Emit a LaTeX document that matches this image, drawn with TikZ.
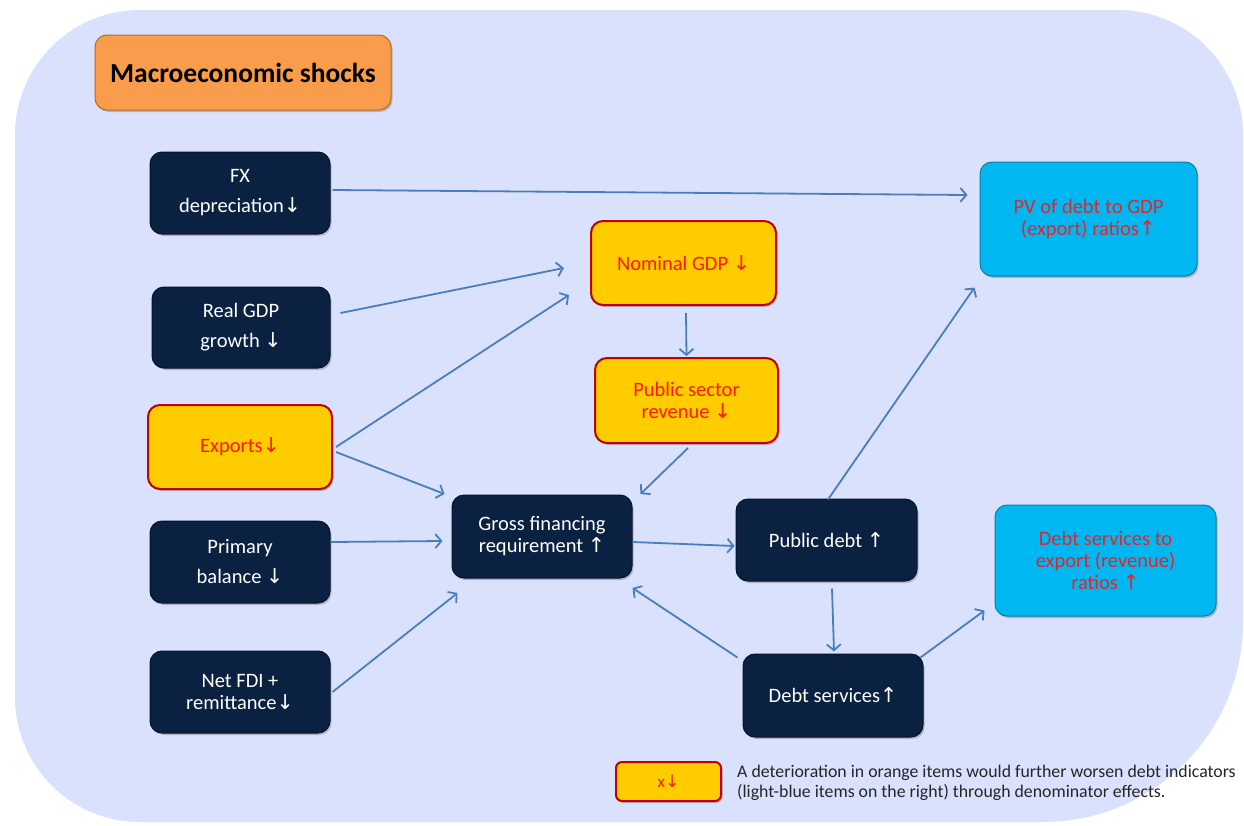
\documentclass[tikz,border=0pt]{standalone}
\usepackage{fontspec}
\setmainfont{Carlito}
\newfontfamily\symfont{DejaVu Sans}
\usetikzlibrary{arrows.meta,shadows}
\newcommand\dn{{\symfont\char"2193}}
\newcommand\up{{\symfont\char"2191}}
\definecolor{bgc}{HTML}{DAE1FD}
\definecolor{navy}{HTML}{0B2142}
\definecolor{navyb}{HTML}{061429}
\definecolor{orng}{HTML}{F99C4B}
\definecolor{orngb}{HTML}{B86A2A}
\definecolor{yel}{HTML}{FFCC00}
\definecolor{yelb}{HTML}{C00000}
\definecolor{cyn}{HTML}{00B7F1}
\definecolor{cynb}{HTML}{0A7FA8}
\definecolor{arr}{HTML}{4A7EBB}
\definecolor{redt}{HTML}{FF1A00}
\definecolor{redc}{HTML}{E0262E}
\tikzset{
  box/.style={rounded corners=12pt, align=center, inner sep=2pt,
    font=\fontsize{20.5}{22}\selectfont,
    drop shadow={shadow xshift=1.5pt, shadow yshift=-2pt, opacity=0.45}},
  darkbox/.style={box, fill=navy, draw=navyb, line width=1pt, text=white},
  yelbox/.style={box, fill=yel, draw=yelb, line width=2pt, text=redt},
  cynbox/.style={box, fill=cyn, draw=cynb, line width=1pt, text=redc},
  conn/.style={draw=arr, line width=1.8pt, -{Straight Barb[length=6pt,width=14pt,line width=1.8pt]}},
}
\begin{document}
\begin{tikzpicture}[x=1pt,y=-1pt]
\useasboundingbox (0,0) rectangle (1244,825);
\fill[bgc] (15,135) -- (15,697) .. controls (15,766) and (71,822) .. (140,822)
  -- (1043,822) .. controls (1153.5,822) and (1243,732.5) .. (1243,622)
  -- (1243,135) .. controls (1243,66) and (1187,10) .. (1118,10)
  -- (140,10) .. controls (71,10) and (15,66) .. (15,135) -- cycle;

\node[box, fill=orng, draw=orngb, line width=1pt, minimum width=296pt, minimum height=75pt,
  font=\fontsize{27.5}{30}\selectfont\bfseries] (macro) at (243,72.5) {Macroeconomic shocks};

\node[darkbox, minimum width=180pt, minimum height=82pt] (fx) at (240,193) {FX\\[8pt]depreciation\dn};
\node[darkbox, minimum width=178pt, minimum height=81pt] (rgdp) at (241,327.5) {Real GDP\\[8pt]growth \dn};
\node[yelbox, minimum width=184pt, minimum height=84pt] (exp) at (240,447) {Exports\dn};
\node[darkbox, minimum width=180pt, minimum height=82pt] (prim) at (240,562) {Primary\\[8pt]balance \dn};
\node[darkbox, minimum width=180pt, minimum height=82pt] (fdi) at (240,692) {Net FDI +\\remittance\dn};

\node[yelbox, minimum width=185pt, minimum height=84pt] (ngdp) at (683.5,263) {Nominal GDP \dn};
\node[yelbox, minimum width=183pt, minimum height=85pt] (psr) at (686.5,400.5) {Public sector\\revenue \dn};
\node[darkbox, minimum width=180pt, minimum height=83pt] (gfr) at (542,536.5) {Gross financing\\requirement \up};
\node[darkbox, minimum width=181pt, minimum height=82pt] (pd) at (826.5,540) {Public debt \up};
\node[darkbox, minimum width=180pt, minimum height=83pt] (ds) at (833,695.5) {Debt services\up};

\node[cynbox, minimum width=217pt, minimum height=114pt] (pv) at (1088.5,219) {PV of debt to GDP\\(export) ratios\up};
\node[cynbox, minimum width=221pt, minimum height=111pt] (dsr) at (1105.5,560.5) {Debt services to\\export (revenue)\\ratios \up};

\node[yelbox, minimum width=105pt, minimum height=39pt, rounded corners=6pt,
  font=\fontsize{17}{18}\selectfont] (leg) at (668.5,781.5) {x\dn};
\node[anchor=west, align=left, inner sep=0pt, text=black!85,
  font=\fontsize{17.8}{20.5}\selectfont] (legtxt) at (737,783)
  {A deterioration in orange items would further worsen debt indicators\\(light-blue items on the right) through denominator effects.};

\draw[conn] ([xshift=2pt,yshift=3pt]fx.east) -- ([xshift=-12pt,yshift=24pt]pv.west);
\draw[conn] ([xshift=10pt,yshift=14.5pt]rgdp.east) -- ([xshift=-26pt,yshift=-5pt]ngdp.west);
\draw[conn] ([xshift=3pt]exp.east) -- ([xshift=-21pt,yshift=-32pt]ngdp.west);
\draw[conn] ([xshift=3pt,yshift=-5pt]exp.east) -- ([xshift=-7pt,yshift=42.5pt]gfr.west);
\draw[conn] ([xshift=2.5pt,yshift=-7pt]ngdp.south) -- ([yshift=1pt]psr.north);
\draw[conn] ([xshift=1.5pt,yshift=-4pt]psr.south) -- ([xshift=8pt,yshift=42.5pt]gfr.east);
\draw[conn] ([yshift=20pt]prim.east) -- ([xshift=-9pt,yshift=-4.5pt]gfr.west);
\draw[conn] ([xshift=2pt]fdi.east) -- ([xshift=6pt,yshift=-56.5pt]gfr.west);
\draw[conn] ([yshift=-5.5pt]gfr.east) -- ([xshift=-1pt,yshift=-6pt]pd.west);
\draw[conn] ([xshift=1.5pt,yshift=-1pt]pd.north) -- ([xshift=-5pt,yshift=-11pt]pv.south west);
\draw[conn] ([xshift=5.5pt,yshift=-7pt]pd.south) -- ([xshift=1pt,yshift=2pt]ds.north);
\draw[conn] ([xshift=-5pt,yshift=-4pt]ds.north west) -- ([yshift=-51.5pt]gfr.east);
\draw[conn] ([xshift=-3pt,yshift=-4pt]ds.north east) -- ([xshift=-10pt,yshift=6pt]dsr.south west);
\end{tikzpicture}
\end{document}
